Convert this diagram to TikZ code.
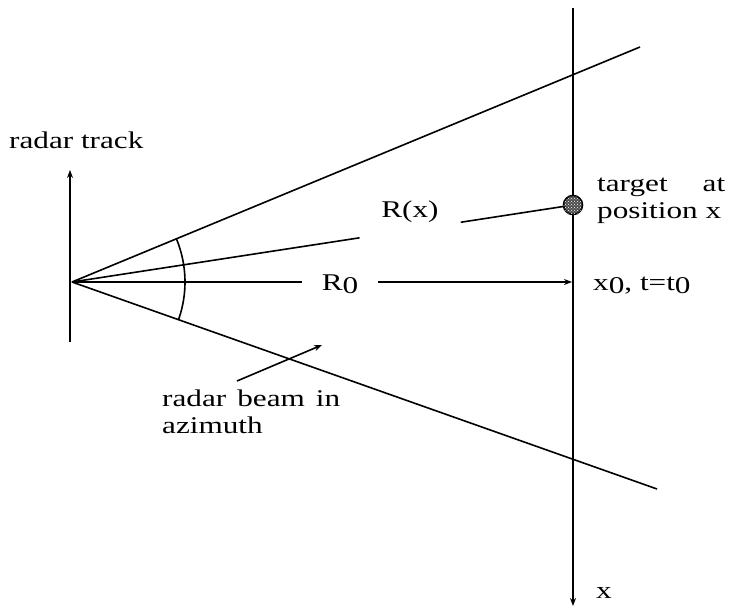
\documentclass[tikz,border=0pt]{standalone}
\usepackage{fontspec}
\setmainfont{Liberation Serif}[FakeStretch=1.3]
\usetikzlibrary{arrows.meta, patterns, calc}

\begin{document}
\begin{tikzpicture}[x=1pt, y=-1pt,
    every node/.style={font=\fontsize{24}{27}\selectfont},
    beamline/.style={line width=1.6pt},
    arrowline/.style={line width=1.6pt, -{Stealth[length=8pt, width=6pt]}},
    lbl/.style={inner sep=0pt},
    gaplbl/.style={inner xsep=20pt, inner ysep=0pt},
    tgt/.style={circle, draw, line width=1.6pt, minimum size=19pt, inner sep=0pt,
        fill=black!70, postaction={pattern=crosshatch dots, pattern color=white}}
]
\useasboundingbox (0,0) rectangle (740,608);
% radar track
\coordinate (o) at (72,282);
\coordinate (trk0) at (70,342);
\coordinate (trk1) at (70,170);
\draw[arrowline] (trk0) -- (trk1);
\node[lbl, anchor=base west] (trk) at (9,148) {radar track};
% beam edges and azimuth arc
\coordinate (bup) at (640,47);
\coordinate (blo) at (657,489);
\draw[beamline] (o) -- (bup);
\draw[beamline] (o) -- (blo);
\draw[beamline] (o) ++(-19.5:113pt) arc[start angle=-19.5, end angle=22.3, radius=113pt];
% x axis
\coordinate (xtop) at (573,8);
\coordinate (xbot) at (573,606);
\draw[arrowline] (xtop) -- (xbot);
\node[lbl, anchor=base west] (xl) at (596,598) {x};
% target and ranges
\node[tgt] (tg) at (573,205) {};
\node[lbl] (rx) at (410,212) {R(x)};
\coordinate (ra) at ($(o)!0.574!(tg)$);
\coordinate (rb) at ($(o)!0.776!(tg)$);
\draw[beamline] (o) -- (ra);
\draw[beamline] (rb) -- (tg);
\node[gaplbl, anchor=base] (r0) at (340,290) {R\raisebox{-3pt}{0}};
\coordinate (x0) at (572,282);
\draw[beamline] (o) -- (o -| r0.west);
\draw[arrowline] (o -| r0.east) -- (x0);
\node[lbl, anchor=base west] (x0l) at (593,290) {x\raisebox{-3pt}{0}, t=t\raisebox{-3pt}{0}};
\node[lbl, anchor=base west, text width=128pt, align=justify] (tgl) at (597,191) {target at position x};
% beam label
\node[lbl, anchor=base west, text width=178pt, align=justify] (bm) at (162,406) {radar beam in azimuth};
\coordinate (btail) at (237,381);
\coordinate (bhead) at (322,345);
\draw[arrowline] (btail) -- (bhead);
\end{tikzpicture}
\end{document}
